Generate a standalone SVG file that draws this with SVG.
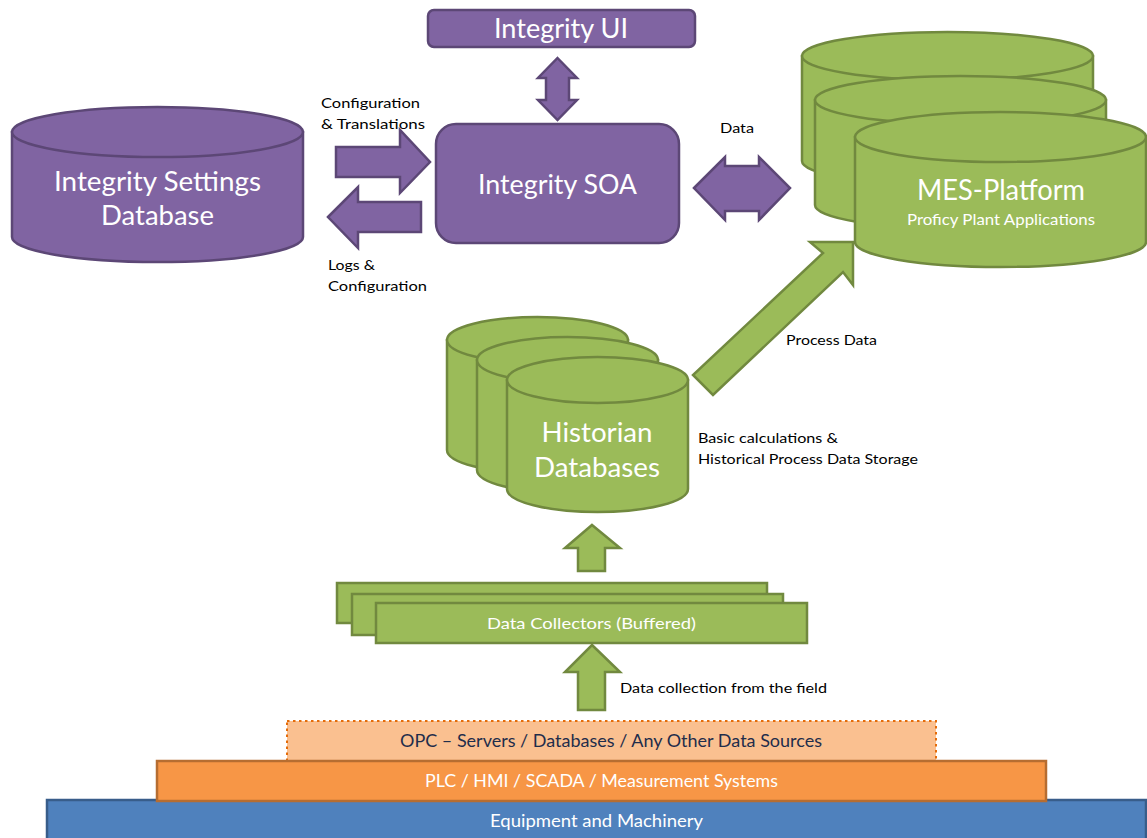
<svg xmlns="http://www.w3.org/2000/svg" width="1147" height="838" viewBox="0 0 1147 838">
  <style>
    .purple { fill: #8064A2; stroke: #5C4776; stroke-width: 2.5; }
    .green { fill: #9BBB59; stroke: #71893F; stroke-width: 2.5; }
    .big { font-family: Lato, "Open Sans", sans-serif; fill: #FFFFFF; text-anchor: middle; }
    .lbl { font-family: Lato, "Open Sans", sans-serif; font-size: 14px; fill: #000000; }
    .layer { font-family: Lato, "Open Sans", sans-serif; font-size: 17px; text-anchor: middle; }
  </style>

  <rect x="0" y="0" width="1147" height="838" fill="#FFFFFF"/>

  <!-- Settings database (cylinder) -->
  <g id="settings-db">
    <path class="purple" d="M12,132 V237 A145.5,25 0 0 0 303,237 V132 Z"/>
    <ellipse class="purple" cx="157.5" cy="132" rx="145.5" ry="25"/>
    <text class="big" x="157.5" y="191" font-size="26" textLength="207" lengthAdjust="spacingAndGlyphs">Integrity Settings</text>
    <text class="big" x="157.5" y="225" font-size="26" textLength="113" lengthAdjust="spacingAndGlyphs">Database</text>
  </g>

  <!-- User interface -->
  <g id="integrity-ui">
    <rect class="purple" x="428" y="10" width="267" height="37" rx="6"/>
    <text class="big" x="561" y="38" font-size="26" textLength="134" lengthAdjust="spacingAndGlyphs">Integrity UI</text>
  </g>

  <!-- Service layer -->
  <g id="integrity-soa">
    <rect class="purple" x="436" y="124" width="243" height="119" rx="20"/>
    <text class="big" x="557.5" y="194" font-size="26" textLength="159" lengthAdjust="spacingAndGlyphs">Integrity SOA</text>
  </g>

  <!-- MES platform (stacked cylinders) -->
  <g id="mes-platform">
    <path class="green" d="M802,56 V161 A145.5,24 0 0 0 1093,161 V56 Z"/>
    <ellipse class="green" cx="947.5" cy="56" rx="145.5" ry="24"/>
    <path class="green" d="M815,100 V205 A145.5,24 0 0 0 1106,205 V100 Z"/>
    <ellipse class="green" cx="960.5" cy="100" rx="145.5" ry="24"/>
    <path class="green" d="M855,137 V242 A145.5,25 0 0 0 1146,242 V137 Z"/>
    <ellipse class="green" cx="1000.5" cy="137" rx="145.5" ry="25"/>
    <text class="big" x="1001" y="200" font-size="28" textLength="168" lengthAdjust="spacingAndGlyphs">MES-Platform</text>
    <text class="big" x="1001" y="225" font-size="15" textLength="188" lengthAdjust="spacingAndGlyphs">Proficy Plant Applications</text>
  </g>

  <!-- Historian databases (stacked cylinders) -->
  <g id="historian">
    <path class="green" d="M447,340 V450 A90.5,23 0 0 0 628,450 V340 Z"/>
    <ellipse class="green" cx="537.5" cy="340" rx="90.5" ry="23"/>
    <path class="green" d="M477,360 V470 A90.5,23 0 0 0 658,470 V360 Z"/>
    <ellipse class="green" cx="567.5" cy="360" rx="90.5" ry="23"/>
    <path class="green" d="M507,380 V489 A90.5,23 0 0 0 688,489 V380 Z"/>
    <ellipse class="green" cx="597.5" cy="380" rx="90.5" ry="23"/>
    <text class="big" x="597" y="442" font-size="26" textLength="111" lengthAdjust="spacingAndGlyphs">Historian</text>
    <text class="big" x="597" y="477" font-size="26" textLength="126" lengthAdjust="spacingAndGlyphs">Databases</text>
  </g>

  <!-- Data collectors (stacked) -->
  <g id="data-collectors">
    <rect class="green" x="337" y="583" width="430" height="40"/>
    <rect class="green" x="352" y="594" width="431" height="41"/>
    <rect class="green" x="376" y="603" width="431" height="40"/>
    <text class="big" x="591.5" y="629" font-size="16" textLength="209" lengthAdjust="spacingAndGlyphs">Data Collectors (Buffered)</text>
  </g>

  <!-- Field layers -->
  <g id="opc-sources">
    <rect x="287" y="721" width="649" height="40" fill="#FAC090" stroke="#E46C0A" stroke-width="2" stroke-dasharray="2.5 3.5"/>
    <text class="layer" x="611" y="747" fill="#1F2D4B" textLength="422" lengthAdjust="spacingAndGlyphs">OPC – Servers / Databases / Any Other Data Sources</text>
  </g>
  <g id="equipment">
    <rect x="47" y="800" width="1099" height="40" fill="#4F81BD" stroke="#385D8A" stroke-width="2.5"/>
    <text class="layer" x="596.5" y="827" fill="#FFFFFF" textLength="213" lengthAdjust="spacingAndGlyphs">Equipment and Machinery</text>
  </g>
  <g id="plc-hmi">
    <rect x="157" y="761" width="889" height="40" fill="#F79646" stroke="#B66D31" stroke-width="2.5"/>
    <text class="layer" x="601.5" y="787" fill="#FFFFFF" textLength="353" lengthAdjust="spacingAndGlyphs">PLC / HMI / SCADA / Measurement Systems</text>
  </g>

  <!-- Block arrows between components -->
  <g id="connectors">
    <polygon class="purple" points="557.5,58 577,78 569,78 569,100 577,100 557.5,120 538,100 546,100 546,78 538,78"/>
    <polygon class="purple" points="694,188 725,157 725,166 759,166 759,157 790,188 759,220 759,211 725,211 725,220"/>
    <polygon class="purple" points="336,147 400,147 400,130 430,162 400,193 400,177 336,177"/>
    <polygon class="purple" points="328,217 358,187 358,202 421,202 421,232 358,232 358,248"/>
    <polygon class="green" points="853,242 853,285 843,272 713,395 693,375 823,253 810,242"/>
    <polygon class="green" points="592,525 620,548 605,548 605,571 578,571 578,548 565,548"/>
    <polygon class="green" points="592,645 620,672 605,672 605,710 578,710 578,672 565,672"/>
  </g>

  <!-- Connector labels -->
  <g id="labels">
    <text class="lbl" x="321" y="108" textLength="99" lengthAdjust="spacingAndGlyphs">Configuration</text>
    <text class="lbl" x="321" y="129" textLength="104" lengthAdjust="spacingAndGlyphs">&amp; Translations</text>
    <text class="lbl" x="328" y="270" textLength="47" lengthAdjust="spacingAndGlyphs">Logs &amp;</text>
    <text class="lbl" x="328" y="291" textLength="99" lengthAdjust="spacingAndGlyphs">Configuration</text>
    <text class="lbl" x="720" y="133" textLength="34" lengthAdjust="spacingAndGlyphs">Data</text>
    <text class="lbl" x="786" y="345" textLength="91" lengthAdjust="spacingAndGlyphs">Process Data</text>
    <text class="lbl" x="698" y="443" textLength="140" lengthAdjust="spacingAndGlyphs">Basic calculations &amp;</text>
    <text class="lbl" x="698" y="464" textLength="220" lengthAdjust="spacingAndGlyphs">Historical Process Data Storage</text>
    <text class="lbl" x="620" y="693" textLength="207" lengthAdjust="spacingAndGlyphs">Data collection from the field</text>
  </g>
</svg>
